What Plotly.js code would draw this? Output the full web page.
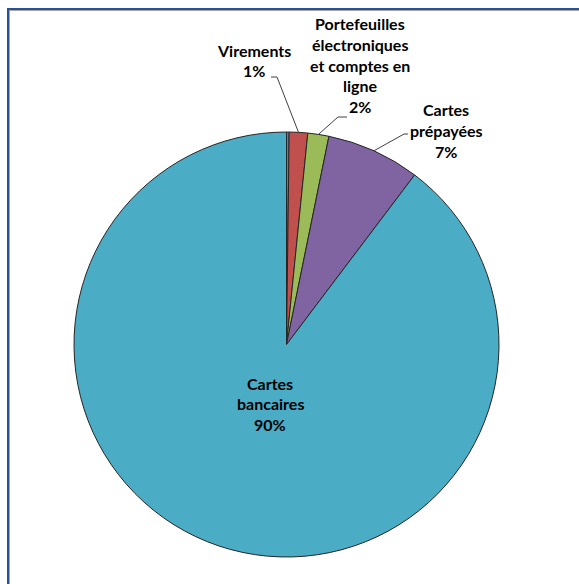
<!DOCTYPE html>
<html>
<head>
<meta charset="utf-8">
<script src="https://cdn.plot.ly/plotly-3.0.1.min.js"></script>
<style>
  html, body { margin: 0; padding: 0; background: #fff; }
  #wrap { position: relative; width: 579px; height: 584px; overflow: hidden; }
  #chart { position: absolute; left: 0; top: 0; width: 579px; height: 584px; }
  #frameBlue { position: absolute; left: 7px; top: 8px; right: -10px; bottom: -10px;
               border-top: 2px solid #2A5193; border-left: 2px solid #2A5193; pointer-events: none; }
  #frameGrey { position: absolute; left: 9px; top: 10px; width: 569px; bottom: -10px;
               border-top: 1px solid #A6A6A6; border-left: 1px solid #A6A6A6; border-right: 1px solid #A6A6A6; pointer-events: none; }
</style>
</head>
<body>
<div id="wrap">
  <div id="chart"></div>
  <div id="frameBlue"></div>
  <div id="frameGrey"></div>
</div>
<script>
// ---- data ----
const categories = ['Autres', 'Virements', 'Portefeuilles électroniques et comptes en ligne', 'Cartes prépayées', 'Cartes bancaires'];
const values = [0.2, 1.4, 1.6, 7.1, 89.7];
const labelLines = [
  [],
  ['Virements'],
  ['Portefeuilles', 'électroniques', 'et comptes en', 'ligne'],
  ['Cartes', 'prépayées'],
  ['Cartes', 'bancaires']
];
const colors = ['#4F81BD', '#C0504D', '#9BBB59', '#8064A2', '#4BACC6'];

// ---- layout constants (pixels) ----
const W = 579, H = 584;
const cx = 286.5, cy = 344.5, R = 212.5;
const lineGap = 20.7;
const fontSize = 16;
const fontFamily = 'Lato, "Open Sans", sans-serif';
// first-line baseline position of each label
const labelPos = [null, [254, 55.5], [360, 29.3], [446, 115.5], [270, 388.5]];
// leader lines: elbow and end (pixels); null = no leader
const leaders = [null, [[277, 77], [271, 77]], [[338, 117], [347, 117]], [[404, 134], [408, 134]], null];

const px = x => x / W;
const py = y => 1 - y / H;

const total = values.reduce((a, b) => a + b, 0);
const annotations = [];
const shapes = [];
let cum = 0;
values.forEach((v, i) => {
  const mid = (cum + v / 2) / total;
  cum += v;
  if (!labelPos[i]) return;
  const pct = Math.round(v / total * 100) + '%';
  const lines = labelLines[i].concat([pct]);
  const [lx, ly] = labelPos[i];
  lines.forEach((t, k) => {
    const base = ly + k * lineGap;
    annotations.push({
      xref: 'paper', yref: 'paper', x: px(lx), y: py(base - 5.5),
      xanchor: 'center', yanchor: 'middle', showarrow: false,
      text: '<b>' + t + '</b>',
      font: { family: fontFamily, size: fontSize, color: '#000' }
    });
  });
  if (leaders[i]) {
    const th = 2 * Math.PI * mid;
    const sx = cx + R * Math.sin(th), sy = cy - R * Math.cos(th);
    const [e, f] = leaders[i];
    shapes.push({
      type: 'path', xref: 'paper', yref: 'paper',
      path: `M ${px(sx)} ${py(sy)} L ${px(e[0])} ${py(e[1])} L ${px(f[0])} ${py(f[1])}`,
      line: { color: '#404040', width: 1 }
    });
  }
});

const trace = {
  type: 'pie',
  labels: categories,
  values: values,
  sort: false,
  direction: 'clockwise',
  rotation: 0,
  textinfo: 'none',
  hoverinfo: 'none',
  marker: { colors: colors, line: { color: '#262626', width: 1 } },
  domain: { x: [px(cx - R), px(cx + R)], y: [py(cy + R), py(cy - R)] },
  showlegend: false
};

Plotly.newPlot('chart', [trace], {
  width: W, height: H,
  margin: { l: 0, r: 0, t: 0, b: 0 },
  paper_bgcolor: '#fff',
  showlegend: false,
  annotations: annotations,
  shapes: shapes
}, { displayModeBar: false, staticPlot: true });
</script>
</body>
</html>
